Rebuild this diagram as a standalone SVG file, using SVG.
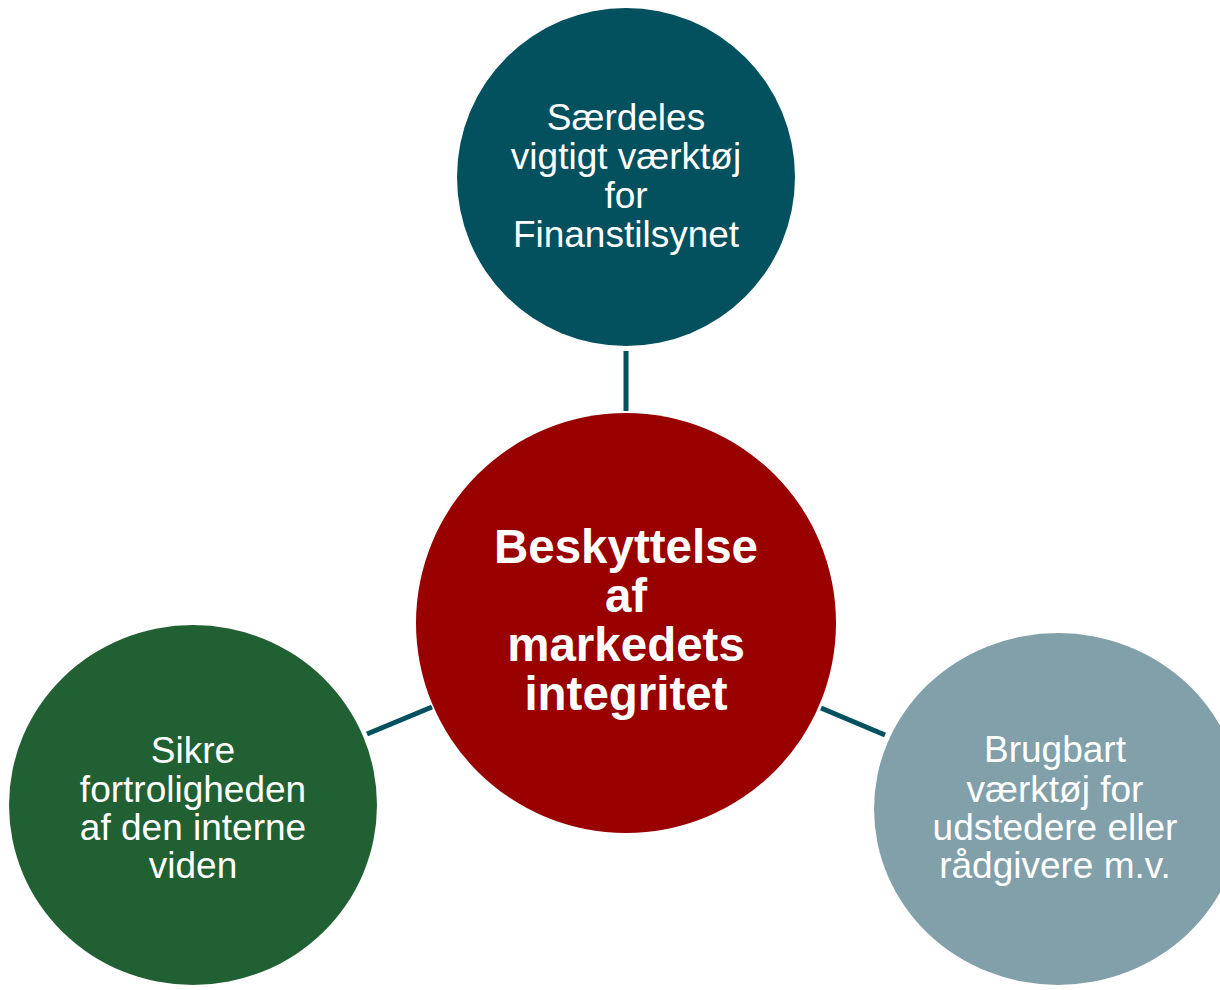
<svg xmlns="http://www.w3.org/2000/svg" width="1220" height="990" viewBox="0 0 1220 990">
<style>
.t{font-family:"Liberation Sans",Arial,sans-serif;fill:#ffffff;text-anchor:middle;font-size:37px}
.b{font-family:"Liberation Sans",Arial,sans-serif;fill:#ffffff;text-anchor:middle;font-size:47.5px;font-weight:bold}
.c{stroke:#03505F;stroke-width:5;fill:none}
</style>
<rect width="1220" height="990" fill="#ffffff"/>
<g id="connectors">
<line class="c" x1="626" y1="351" x2="626" y2="411"/>
<line class="c" x1="367" y1="734" x2="432" y2="707"/>
<line class="c" x1="821" y1="708" x2="885" y2="735"/>
</g>
<g id="top">
<circle cx="626" cy="177" r="169" fill="#03505F"/>
<text class="t" x="626" y="130">Særdeles</text>
<text class="t" x="626" y="169">vigtigt værktøj</text>
<text class="t" x="626" y="208">for</text>
<text class="t" x="626" y="247">Finanstilsynet</text>
</g>
<g id="center">
<circle cx="626" cy="623" r="210" fill="#990000"/>
<text class="b" x="626" y="563">Beskyttelse</text>
<text class="b" x="626" y="612">af</text>
<text class="b" x="626" y="661">markedets</text>
<text class="b" x="626" y="710">integritet</text>
</g>
<g id="left">
<ellipse cx="193" cy="805" rx="184" ry="180" fill="#216033"/>
<text class="t" x="193" y="763">Sikre</text>
<text class="t" x="193" y="802">fortroligheden</text>
<text class="t" x="193" y="840">af den interne</text>
<text class="t" x="193" y="878">viden</text>
</g>
<g id="right">
<ellipse cx="1058" cy="809" rx="184" ry="176" fill="#82A0AA"/>
<text class="t" x="1055" y="762">Brugbart</text>
<text class="t" x="1055" y="802">værktøj for</text>
<text class="t" x="1055" y="840">udstedere eller</text>
<text class="t" x="1055" y="878">rådgivere m.v.</text>
</g>
</svg>
